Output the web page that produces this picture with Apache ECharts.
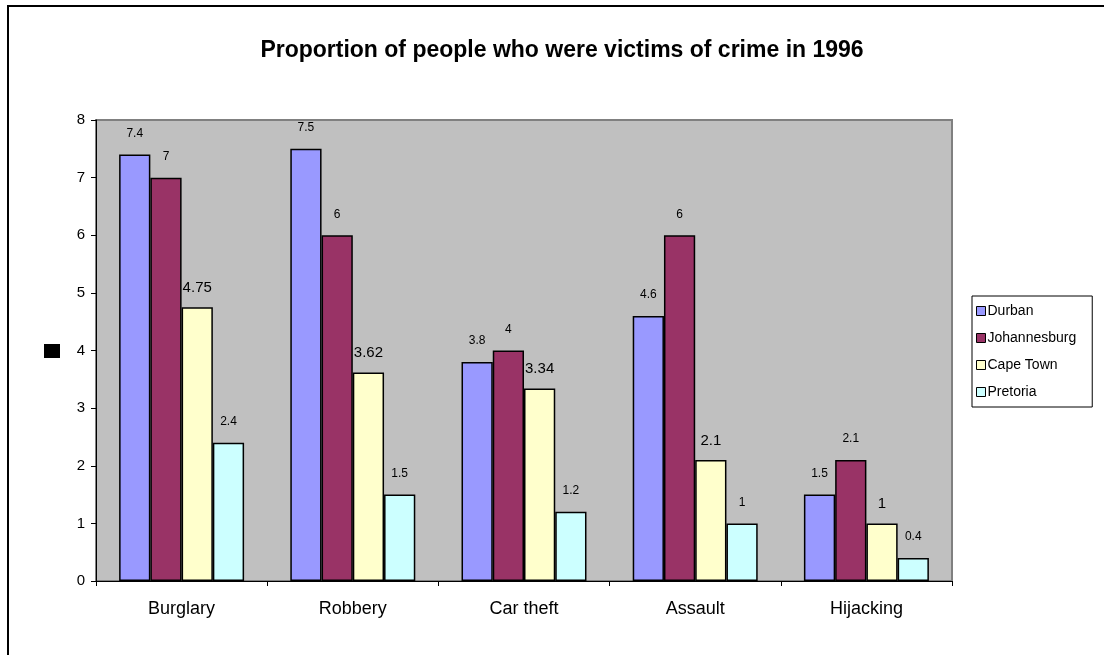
<!DOCTYPE html>
<html>
<head>
<meta charset="utf-8">
<script src="https://cdn.jsdelivr.net/npm/echarts@6/dist/echarts.min.js"></script>
<style>
  html, body { margin: 0; padding: 0; background: #fff; }
  #chart { width: 1104px; height: 655px; }
</style>
</head>
<body>
<div id="chart"></div>
<script>
// 数据
const categories = ['Burglary', 'Robbery', 'Car theft', 'Assault', 'Hijacking']
const durban = [7.4, 7.5, 3.8, 4.6, 1.5]
const johannesburg = [7, 6, 4, 6, 2.1]
const capeTown = [4.75, 3.62, 3.34, 2.1, 1]
const pretoria = [2.4, 1.5, 1.2, 1, 0.4]
const yTicks = [0, 1, 2, 3, 4, 5, 6, 7, 8]

const font = '"Liberation Sans", Arial, sans-serif'

function makeSeries (name, data, color, labelSize, labelDist) {
  return {
    name: name,
    type: 'bar',
    data: data,
    barGap: '0%',
    barCategoryGap: '27%',
    itemStyle: { color: color, borderColor: '#000', borderWidth: 1.5 },
    label: {
      show: true,
      position: 'top',
      distance: labelDist,
      color: '#000',
      fontFamily: font,
      fontSize: labelSize
    }
  }
}

let myChart = echarts.init(document.getElementById('chart'))
let options = {
  animation: false,
  backgroundColor: '#fff',
  textStyle: { fontFamily: font },
  title: {
    text: 'Proportion of people who were victims of crime in 1996',
    left: 557,
    top: 34,
    textAlign: 'center',
    textStyle: { fontSize: 23, fontWeight: 'bold', color: '#000', fontFamily: font }
  },
  grid: {
    left: 96,
    right: 152,
    top: 120,
    bottom: 74,
    show: true,
    backgroundColor: '#c0c0c0',
    borderColor: '#808080',
    borderWidth: 2
  },
  legend: {
    orient: 'vertical',
    left: 972,
    top: 296,
    width: 110,
    padding: [8, 16, 8, 4],
    itemGap: 13,
    itemWidth: 9,
    itemHeight: 9,
    borderColor: '#000',
    borderWidth: 1,
    icon: 'rect',
    itemStyle: { borderColor: '#000', borderWidth: 1 },
    textStyle: { fontSize: 14, color: '#000', fontFamily: font, padding: [0, 0, 0, -3] },
    data: ['Durban', 'Johannesburg', 'Cape Town', 'Pretoria']
  },
  xAxis: {
    type: 'category',
    data: categories,
    axisLine: { lineStyle: { color: '#000', width: 1 } },
    axisTick: { show: true, length: 5, lineStyle: { color: '#000' } },
    axisLabel: { color: '#000', fontSize: 18, margin: 19, fontFamily: font }
  },
  yAxis: {
    type: 'value',
    min: yTicks[0],
    max: yTicks[yTicks.length - 1],
    interval: 1,
    splitLine: { show: false },
    axisLine: { show: true, lineStyle: { color: '#000', width: 1 } },
    axisTick: { show: true, length: 5, lineStyle: { color: '#000' } },
    axisLabel: { color: '#000', fontSize: 15, margin: 11, fontFamily: font }
  },
  series: [
    makeSeries('Durban', durban, '#9999ff', 12, 15),
    makeSeries('Johannesburg', johannesburg, '#993366', 12, 15),
    makeSeries('Cape Town', capeTown, '#ffffcc', 15, 12),
    makeSeries('Pretoria', pretoria, '#ccffff', 12, 15)
  ],
  graphic: [
    { // 外框
      type: 'rect',
      shape: { x: 8, y: 6, width: 1200, height: 800 },
      style: { fill: 'none', stroke: '#000', lineWidth: 2 }
    },
    { // y轴标题占位
      type: 'rect',
      shape: { x: 44, y: 344, width: 16, height: 14 },
      style: { fill: '#000' }
    }
  ]
}
myChart.setOption(options)
</script>
</body>
</html>
